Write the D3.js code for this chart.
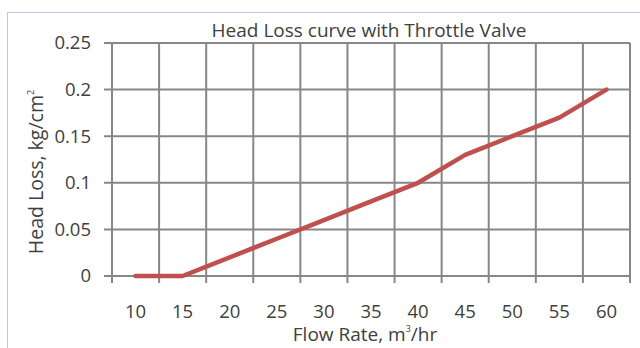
<!DOCTYPE html>
<html>
<head>
<meta charset="utf-8">
<script src="https://cdn.jsdelivr.net/npm/d3@7"></script>
<style>
	body { margin: 0; background: #fff; }
	text { font-family: "Open Sans", sans-serif; fill: #404040; }
</style>
</head>
<body>
<svg id="graph" width="640" height="348"></svg>
<script>
var flowRates = [10, 15, 20, 25, 30, 35, 40, 45, 50, 55, 60];
var headLoss = [0, 0, 0.02, 0.04, 0.06, 0.08, 0.1, 0.13, 0.15, 0.17, 0.2];
var yTicks = [0, 0.05, 0.1, 0.15, 0.2, 0.25];

var margin = {top: 43, left: 112, right: 10, bottom: 72},
	width = 640 - margin.left - margin.right,
	height = 348 - margin.top - margin.bottom,
	graph = d3.select("#graph");

// chart border
graph.append("rect")
	.attr("x", 7.5).attr("y", 12.5)
	.attr("width", 660).attr("height", 360)
	.attr("fill", "none")
	.attr("stroke", "#cbc3df")
	.attr("stroke-width", 1);

var g = graph.append("g").attr("transform", "translate(" + margin.left + "," + margin.top + ")");

var x = d3.scaleBand().domain(flowRates).range([0, 518]).paddingInner(0).paddingOuter(0),
	y = d3.scaleLinear().domain([0, 0.25]).range([233, 0]);

var gridColor = "#878787";

// horizontal gridlines + y ticks
g.selectAll(".hgrid")
	.data(yTicks)
	.enter().append("line")
		.attr("x1", -8).attr("x2", 518)
		.attr("y1", function(d) { return y(d); })
		.attr("y2", function(d) { return y(d); })
		.attr("stroke", gridColor).attr("stroke-width", 2);

// vertical gridlines at category boundaries
var bounds = flowRates.map(function(d) { return x(d); }).concat([x.range()[1]]);
g.selectAll(".vgrid")
	.data(bounds)
	.enter().append("line")
		.attr("x1", function(d) { return d; })
		.attr("x2", function(d) { return d; })
		.attr("y1", 0).attr("y2", 233 + 7)
		.attr("stroke", gridColor).attr("stroke-width", 2);

// y tick labels
g.selectAll(".ylab")
	.data(yTicks)
	.enter().append("text")
		.attr("x", -21)
		.attr("y", function(d) { return y(d); })
		.attr("dy", "0.35em")
		.attr("text-anchor", "end")
		.style("font-size", "18.5px")
		.text(function(d) { return d; });

// x tick labels
g.selectAll(".xlab")
	.data(flowRates)
	.enter().append("text")
		.attr("x", function(d) { return x(d) + x.bandwidth() / 2; })
		.attr("y", 275)
		.attr("text-anchor", "middle")
		.style("font-size", "18.5px")
		.text(function(d) { return d; });

// data line
var line = d3.line()
	.x(function(d, i) { return x(flowRates[i]) + x.bandwidth() / 2; })
	.y(function(d) { return y(d); });

g.append("path")
	.datum(headLoss)
	.attr("d", line)
	.attr("fill", "none")
	.attr("stroke", "#c0504d")
	.attr("stroke-width", 4.5)
	.attr("stroke-linejoin", "round")
	.attr("stroke-linecap", "round");

// title
graph.append("text")
	.attr("x", 369).attr("y", 36.5)
	.attr("text-anchor", "middle")
	.style("font-size", "19px")
	.text("Head Loss curve with Throttle Valve");

// x axis title
var xt = graph.append("text")
	.attr("x", 365).attr("y", 341)
	.attr("text-anchor", "middle")
	.style("font-size", "19px");
xt.append("tspan").text("Flow Rate, m");
xt.append("tspan").attr("dy", -9).style("font-size", "9px").text("3");
xt.append("tspan").attr("dy", 9).text("/hr");

// y axis title
var yt = graph.append("text")
	.attr("transform", "translate(43,172) rotate(-90)")
	.attr("text-anchor", "middle")
	.style("font-size", "19.5px");
yt.append("tspan").text("Head Loss, kg/cm");
yt.append("tspan").attr("dy", -9).style("font-size", "9px").text("2");
</script>
</body>
</html>
